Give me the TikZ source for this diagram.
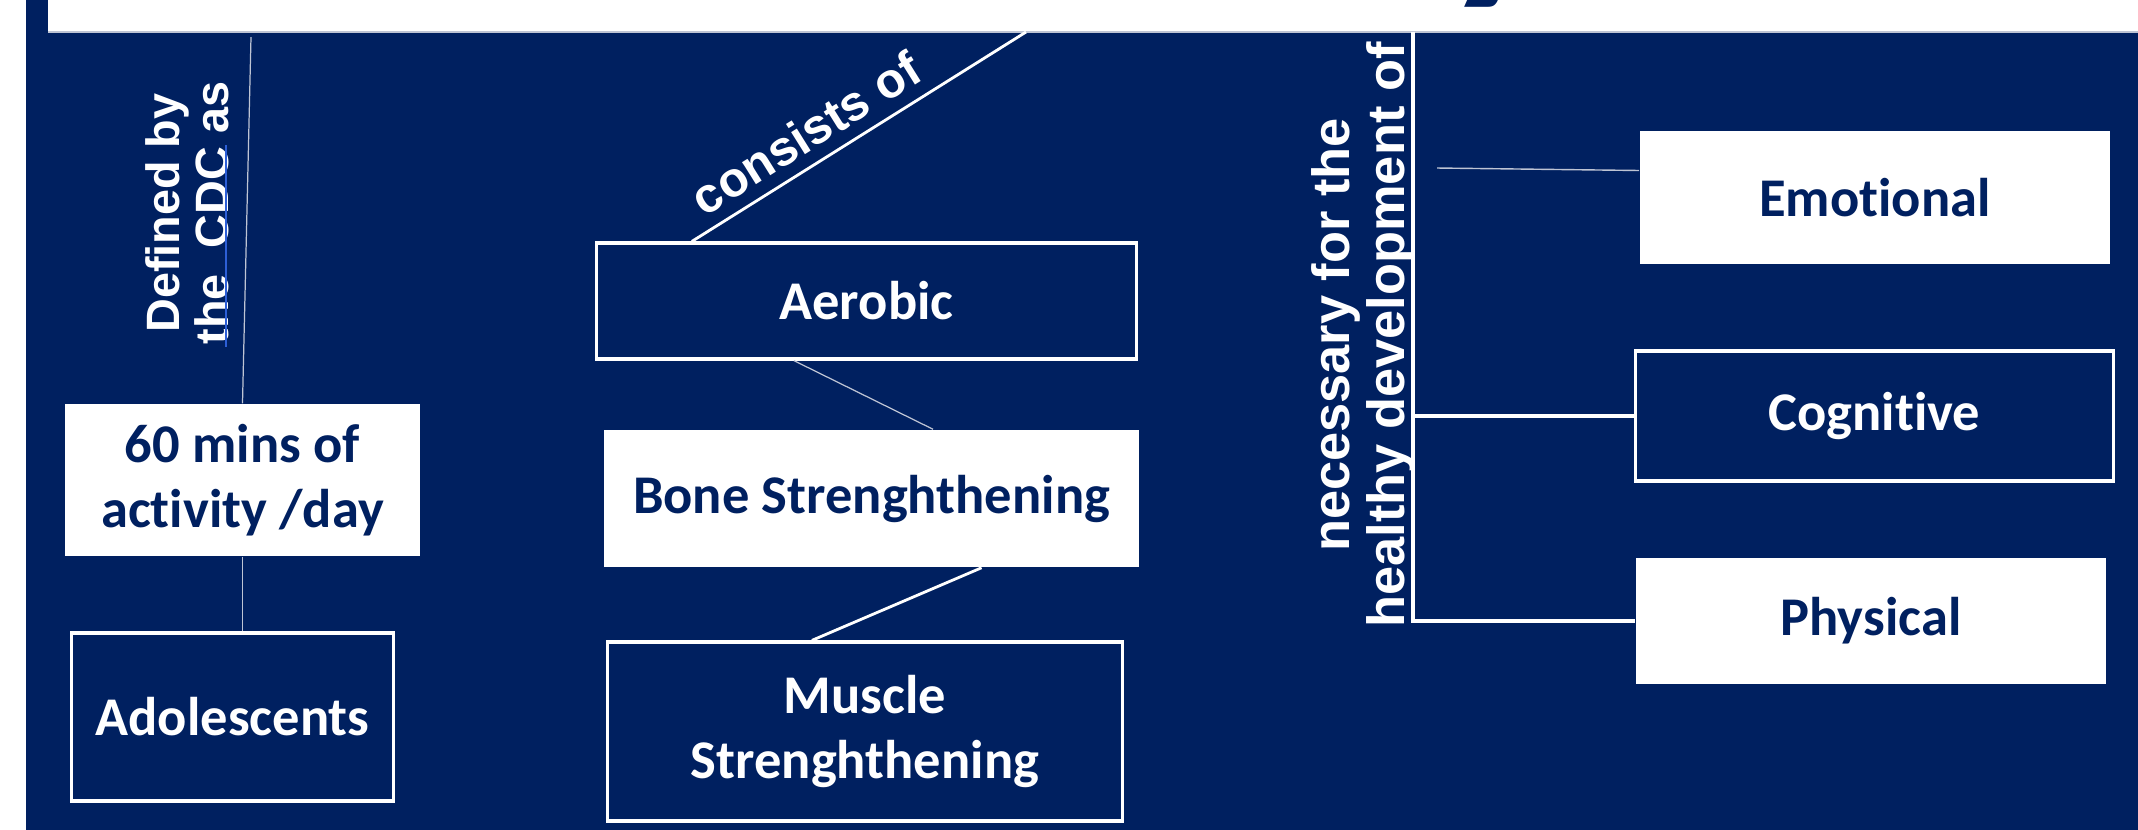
\documentclass[tikz,border=0pt]{standalone}
\usepackage{fontspec}
\setmainfont{Carlito}[Ligatures=NoCommon]
\newfontfamily\labelfont{Liberation Sans}
\usepackage{tikz}
\definecolor{slidenavy}{RGB}{0,32,96}
\definecolor{linkblue}{RGB}{45,95,215}
\definecolor{thinline}{RGB}{190,196,212}

\begin{document}
\begin{tikzpicture}[x=0.01cm, y=-0.01cm,
    darkbox/.style={draw=white, line width=0.9pt, fill=slidenavy, text=white, align=center, inner sep=0pt,
        font=\bfseries\fontsize{15.5}{18.6}\selectfont},
    lightbox/.style={fill=white, text=slidenavy, align=center, inner sep=0pt,
        font=\bfseries\fontsize{15.5}{18.6}\selectfont},
    sidelabel/.style={text=white, align=center, rotate=90, inner sep=0pt}]

    % constants
    \def\bandbottom{32}

    % slide background
    \useasboundingbox (0,0) rectangle (2138,829);
    \fill[white] (-20,-20) rectangle (2160,850);
    \fill[slidenavy] (26,-20) rectangle (2160,850);
    \fill[white] (48,-20) rectangle (2160,\bandbottom);
    \draw[color=thinline, line width=0.3pt] (48,\bandbottom) -- (2160,\bandbottom);

    % tail of the cut-off title
    \begin{scope}
        \clip (48,0) rectangle (2138,\bandbottom);
        \node[anchor=base, text=slidenavy, font=\bfseries\fontsize{72}{80}\selectfont] (titletail) at (1500,-33) {y};
    \end{scope}

    % left column
    \node[lightbox, minimum width=3.55cm, minimum height=1.52cm] (mins) at (242.5,480) {60 mins of\\activity /day};
    \node[darkbox, minimum width=3.21cm, minimum height=1.68cm] (adol) at (232.5,717) {Adolescents};

    \node[sidelabel, font=\labelfont\bfseries\fontsize{13.3}{14}\selectfont] (cdclabel) at (187,213) {Defined by\\the\ \ CDC as};
    \draw[color=linkblue, line width=0.4pt] (226,145) -- (226,347);

    \coordinate (cdctop) at (251,37);
    \draw[color=thinline, line width=0.35pt] (cdctop) -- (mins.north);
    \draw[color=thinline, line width=0.35pt] (mins.south) -- (mins.south |- adol.north);

    % middle column
    \node[darkbox, minimum width=5.39cm, minimum height=1.16cm] (aero) at (866.5,301) {Aerobic};
    \node[lightbox, minimum width=5.35cm, minimum height=1.37cm] (bone) at (871.5,498.5) {Bone Strenghthening};
    \node[darkbox, minimum width=5.14cm, minimum height=1.79cm] (muscle) at (865,731.5) {Muscle\\Strenghthening};

    \coordinate (constop) at (1026,\bandbottom);
    \draw[white, line width=0.8pt] ([xshift=-1.745cm]aero.north) -- node[pos=0.39, sloped, above, text=white,
        font=\labelfont\bfseries\fontsize{14}{16}\selectfont] (conslabel) {consists of} (constop);
    \draw[color=thinline, line width=0.35pt] ([xshift=-0.725cm]aero.south) -- ([xshift=0.615cm]bone.north);
    \draw[white, line width=0.8pt] ([xshift=1.1cm]bone.south) -- ([xshift=-0.53cm]muscle.north);

    % right column
    \node[lightbox, minimum width=4.70cm, minimum height=1.33cm] (emo) at (1875,197.5) {Emotional};
    \node[darkbox, minimum width=4.77cm, minimum height=1.30cm] (cogn) at (1874.5,416) {Cognitive};
    \node[lightbox, minimum width=4.70cm, minimum height=1.26cm] (phys) at (1871,621) {Physical};

    \node[sidelabel, font=\labelfont\bfseries\fontsize{14.9}{15.6}\selectfont] (devlabel) at (1363.5,335) {necessary for the\\healthy development of};

    \coordinate (devtop) at (1413,\bandbottom);
    \draw[white, line width=0.9pt] (devtop) -- (devtop |- phys.west) -- (phys.west);
    \draw[white, line width=0.9pt] (devtop |- cogn.west) -- (cogn.west);

    \coordinate (emostart) at (1437,168);
    \draw[color=thinline, line width=0.4pt] (emostart) -- ([yshift=0.27cm]emo.west);

\end{tikzpicture}
\end{document}
